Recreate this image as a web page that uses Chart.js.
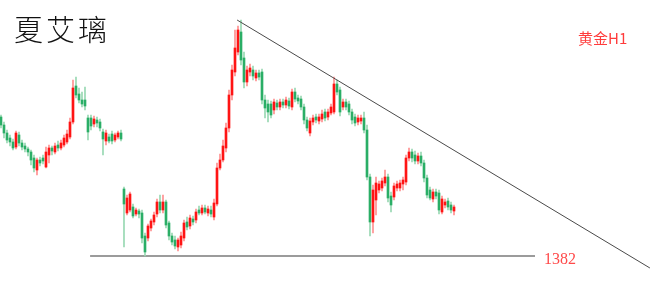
<!DOCTYPE html>
<html>
<head>
<meta charset="utf-8">
<script src="https://cdn.jsdelivr.net/npm/chart.js@4.4.1/dist/chart.umd.min.js"></script>
<style>
  html, body { margin: 0; padding: 0; background: #fff; }
  #wrap { position: relative; width: 650px; height: 296px; overflow: hidden; }
  .txt { position: absolute; white-space: nowrap; line-height: 1; }
  #title { left: 14px; top: 14px; font-family: "Noto Sans CJK SC", serif; font-size: 29px; letter-spacing: 3px; color: #111; font-weight: 300; }
  #symbol { left: 578px; top: 30px; font-family: "Noto Sans CJK SC", serif; font-size: 15px; color: #ff3b3b; }
  #level { left: 544px; top: 251px; font-family: "Liberation Serif", serif; font-size: 16px; color: #ff4a4a; }
</style>
</head>
<body>
<div id="wrap">
  <canvas id="myChart" width="650" height="296"></canvas>
  <div class="txt" id="title">夏艾璃</div>
  <div class="txt" id="symbol">黄金H1</div>
  <div class="txt" id="level">1382</div>
</div>
<script>
// ++++++++++++++++++++++++ DATA (gold H1 candles) ++++++++++++++++++++++++

var opens = [
  1416.75,1414.75,1412.75,1411.5,1410.5,1409.25,1412.25,1410.25,1409.5,1408.75,
  1408,1406.5,1403.5,1406,1406.5,1404.25,1407.25,1409,1408,1409.75,
  1409,1409.75,1410.5,1411.75,1415.5,1424.5,1422.5,1421,1421,1416.5,
  1416.5,1415,1416,1415.5,1413,1410.75,1411.75,1412.5,1411,1411.75,
  1412.75,1398.75,1392.75,1393.5,1394.25,1392.5,1393.25,1392.75,1387,1386.5,
  1389,1390.5,1392.5,1395.5,1393.5,1395.5,1390.25,1387,1386,1384.25,
  1384.75,1386.5,1390.5,1389.5,1391.25,1391,1393.5,1392.75,1394,1392.75,
  1393.5,1391.75,1395,1404,1406,1409,1414,1422.25,1428,1433,
  1438,1431.5,1425.5,1428,1428.5,1426.5,1427.75,1428,1421,1420,
  1420,1418.5,1420.25,1419.25,1420.5,1419.75,1420.75,1419.25,1423,1421.5,
  1421.25,1419.25,1416,1412.75,1415.5,1416.75,1415.75,1416.25,1418,1416.75,
  1417.75,1418,1425,1423.5,1419.25,1420.5,1420,1418,1416.75,1415.5,
  1415.75,1416.5,1413.5,1401.75,1390.5,1396,1398.5,1399,1400.25,1401.75,
  1397,1396.75,1399,1399,1400,1400.5,1406.5,1408,1407.25,1405.75,
  1407,1405.25,1401.5,1398.5,1396.25,1398,1397.75,1393,1394.75,1395.75,
  1394.75,1393.25
];
var highs = [
  1417.25,1415.5,1413.5,1412.25,1411.25,1413.25,1413,1411,1410.25,1409.25,
  1408.5,1407.25,1406.5,1406.75,1407.25,1409.25,1409.75,1409.5,1410.25,1410.75,
  1411,1412.25,1413.5,1416.5,1426,1426.75,1424,1423,1424.25,1417.25,
  1417.25,1417,1416.75,1416.25,1413.75,1413.5,1412.5,1413.25,1412.75,1413.25,
  1413.5,1399.25,1397.25,1398,1395,1394,1393.75,1393.5,1387.75,1390,
  1391.25,1393,1396.25,1397.25,1397.25,1396,1390.75,1387.75,1387,1386.5,
  1388,1391,1391.75,1392.25,1392,1393.75,1394.5,1394.75,1394.75,1394.5,
  1394.5,1396.25,1405.25,1407.5,1411,1415.25,1423.5,1429.75,1438.5,1439.5,
  1441,1433,1429.5,1430,1429.5,1428.5,1428.5,1428.75,1422.25,1421,
  1420.75,1421.25,1421,1421.25,1421.25,1421.75,1421.5,1423.75,1424,1422.25,
  1422,1420,1416.75,1416.5,1417.25,1417.5,1417.5,1418.5,1418.75,1418.75,
  1420,1426.75,1426,1424.25,1421.25,1421.25,1420.75,1418.75,1417.5,1417.25,
  1417.25,1418,1414.75,1402.5,1399.75,1401.75,1400.75,1401.5,1403.5,1402.5,
  1398,1400.25,1400.75,1401,1401.75,1407.25,1409,1408.75,1408.25,1407.75,
  1408,1406,1402.25,1399.25,1398.75,1398.75,1398.5,1397,1396.25,1396.5,
  1395.5,1394.75
];
var lows = [
  1414,1411.5,1410.25,1409.5,1408.5,1408.75,1409.5,1408.5,1408,1407,
  1404.75,1403,1402.25,1404.5,1405,1404,1405.25,1407.25,1407.5,1408.25,
  1408.5,1409.25,1410,1411.25,1415,1421.5,1420.25,1419.25,1418.5,1411,
  1413.5,1414.25,1414.25,1413.25,1407.25,1409.75,1410.25,1410,1410.5,1411.25,
  1410.75,1384.25,1392.25,1393,1391.5,1392,1391.5,1385.25,1382,1385.75,
  1388.25,1389.75,1391.75,1392.75,1392.75,1389,1386,1384.75,1383.75,1383.25,
  1384,1385.75,1388.5,1388.75,1389.75,1390.25,1392.25,1392.25,1392.5,1392,
  1391.75,1391,1394.5,1403.5,1405.5,1408,1413,1421,1427,1432.25,
  1429.75,1424,1424.5,1427,1426,1425.75,1426,1420,1416.5,1415.5,
  1416.5,1417.5,1418.5,1418.5,1419,1419,1418.75,1418.5,1420.5,1420,
  1418.5,1415,1413.25,1412,1414.75,1415.25,1415,1415.5,1415.75,1416,
  1417.25,1417.5,1422.25,1417,1418.5,1418.5,1417.25,1415,1414.5,1414.75,
  1415,1412.75,1401,1387,1387.75,1392.25,1397.75,1398.25,1399.5,1395.5,
  1393,1396,1398.25,1398.25,1398.5,1399.75,1405.75,1405.5,1405,1405,
  1404.5,1400.5,1396.5,1396,1395.5,1396.25,1392.5,1392.5,1394,1393.5,
  1392.75,1392.25
];
var closes = [
  1414.75,1412.75,1411,1410.5,1409,1412.75,1410.25,1409.25,1408.75,1408,
  1406,1404,1406,1405.25,1405.75,1408,1409,1408.25,1409.5,1409,
  1410.25,1411.5,1412.5,1415.5,1424,1422.25,1421,1420,1419.5,1413,
  1414.5,1416.25,1415.25,1414,1411.25,1412.75,1410.75,1410.75,1412.25,1412.75,
  1411.25,1395,1396.5,1397.5,1392,1393.5,1392.5,1386.5,1383,1389.5,
  1390.75,1392.25,1395.5,1393.5,1395.5,1389.75,1387,1385.5,1384.5,1386,
  1387,1390.25,1389.25,1391.5,1390.5,1393,1392.75,1394,1393,1393.75,
  1392.5,1395.25,1404,1406,1409.5,1414,1422.25,1428.5,1434,1438.5,
  1431,1425.5,1428.5,1429,1427,1427.75,1426.75,1421,1419,1418,
  1417.25,1420.5,1419.25,1420.5,1419.75,1421,1419.5,1423,1421.25,1420.75,
  1419.25,1416,1414,1415.75,1416.5,1416,1416.75,1417.5,1416.5,1418,
  1419.25,1425,1423,1418,1420.5,1419.25,1418,1416,1415.25,1416.5,
  1416.5,1413.5,1401.75,1390.5,1398.5,1400.25,1400,1400.75,1401.75,1396.5,
  1394.75,1399.5,1400,1400.25,1401,1406.5,1408,1406.5,1405.75,1407,
  1405.25,1401.5,1397.25,1396.5,1398,1397,1393.5,1396.25,1395.5,1394.25,
  1393.5,1394.25
];

// support level and the falling trendline (x = candle index)
var supportLevel = 1382;
var supportFrom = 29.7, supportTo = 178;
var trendX = [78.7, 216.3];
var trendY = [1441, 1379];


// +++++++++++++++++++++++++ BUILDING DATASETS +++++++++++++++++++++++++

var upBody = '#ff1414', upWick = '#ff9090';
var downBody = '#2aae66', downWick = '#98d8b2';

var wickData = [], bodyData = [], wickColors = [], bodyColors = [];
for (let i = 0; i < opens.length; i++) {
    let up = closes[i] >= opens[i];
    wickData.push({ x: i, y: [lows[i], highs[i]] });
    bodyData.push({ x: i, y: [opens[i], closes[i]] });
    wickColors.push(up ? upWick : downWick);
    bodyColors.push(up ? upBody : downBody);
}


// +++++++++++++++++++++++++ ADDING CHART ++++++++++++++++++++++++++++++

var ctx = document.getElementById('myChart').getContext('2d');
var myChart = new Chart(ctx, {
    type: 'bar',
    data: {
        datasets: [
            {
                type: 'line',
                data: [{ x: supportFrom, y: supportLevel }, { x: supportTo, y: supportLevel }],
                borderColor: '#7a7a7a',
                borderWidth: 1.5,
                pointRadius: 0,
                order: 3
            },
            {
                type: 'line',
                data: [{ x: trendX[0], y: trendY[0] }, { x: trendX[1], y: trendY[1] }],
                borderColor: '#4a4a4a',
                borderWidth: 1,
                pointRadius: 0,
                order: 0
            },
            {
                data: wickData,
                backgroundColor: wickColors,
                barThickness: 1,
                grouped: false,
                borderSkipped: false,
                order: 2
            },
            {
                data: bodyData,
                backgroundColor: bodyColors,
                barThickness: 2,
                grouped: false,
                borderSkipped: false,
                order: 1
            }
        ]
    },
    options: {
        responsive: false,
        animation: false,
        devicePixelRatio: 1,
        layout: { padding: 0 },
        plugins: {
            legend: { display: false },
            tooltip: { enabled: false }
        },
        scales: {
            x: {
                type: 'linear',
                min: -0.33,
                max: 216.33,
                offset: false,
                display: false
            },
            y: {
                min: 1372,
                max: 1446,
                display: false
            }
        }
    }
});
</script>
</body>
</html>
